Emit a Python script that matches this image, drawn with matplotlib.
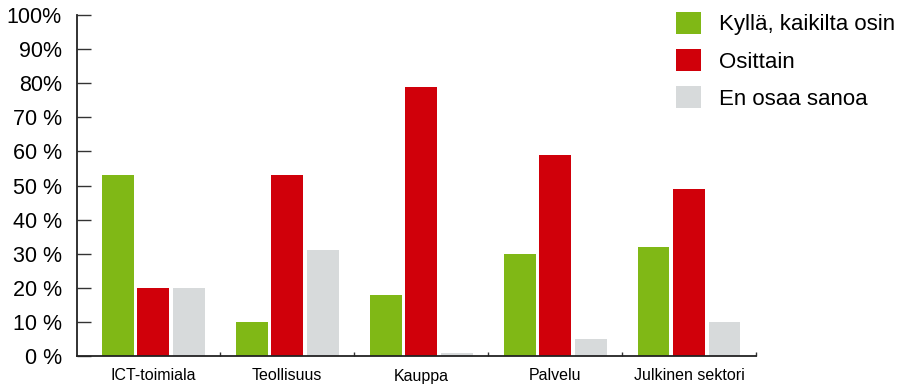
import matplotlib
matplotlib.use('Agg')
from matplotlib import pyplot as plt
from matplotlib.patches import Patch
import numpy as np

plt.rcParams['font.family'] = ['Liberation Sans', 'DejaVu Sans']

# Survey answers by sector, share of respondents (%)
sectors = ["ICT-toimiala", "Teollisuus", "Kauppa", "Palvelu", "Julkinen sektori"]
kylla = [53, 10, 18, 30, 32]
osittain = [20, 53, 79, 59, 49]
en_osaa = [20, 31, 1, 5, 10]
series_names = ["Kyllä, kaikilta osin", "Osittain", "En osaa sanoa"]
ytick_labels = ["0 %", "10 %", "20 %", "30 %", "40 %", "50 %", "60 %", "70 %", "80%", "90%", "100%"]

colors = ['#80b816', '#d0000a', '#d7dadb']

fig = plt.figure(figsize=(9.07, 3.84), dpi=100)
ax = fig.add_axes([77 / 907, 1 - 356 / 384, (756 - 77) / 907, (356 - 15) / 384])

x = np.arange(len(sectors))
w = 0.238
step = 0.265
for i, vals in enumerate([kylla, osittain, en_osaa]):
    ax.bar(x + (i - 1) * step, vals, width=w, color=colors[i], label=series_names[i], zorder=2)

ax.set_xlim(-0.57, 4.5)
ax.set_ylim(0, 100)

for s in ['top', 'right']:
    ax.spines[s].set_visible(False)
for s in ['left', 'bottom']:
    ax.spines[s].set_linewidth(1.3)
    ax.spines[s].set_color('#222222')

ax.set_yticks(np.arange(0, 101, 10))
ax.set_yticklabels(ytick_labels)
ax.tick_params(axis='y', direction='in', length=10, width=1, color='#333333',
               pad=11, labelsize=15.5)

# category names centred under each group, small marks between groups
ax.set_xticks(x)
ax.set_xticklabels(sectors)
ax.tick_params(axis='x', which='major', length=0, pad=9, labelsize=11.5)
ax.set_xticks(x + 0.5, minor=True)
ax.tick_params(axis='x', which='minor', direction='in', length=3, width=1, color='#333333')

handles = [Patch(facecolor=c, edgecolor='none') for c in colors]
fig.legend(handles, series_names, loc='upper left',
           bbox_to_anchor=(676 / 907, 1 - 12 / 384), frameon=False,
           fontsize=16, handlelength=1.13, handleheight=1.13,
           handletextpad=0.8, labelspacing=0.62, borderpad=0, borderaxespad=0)

plt.savefig('out.png', dpi=100)
plt.close()
